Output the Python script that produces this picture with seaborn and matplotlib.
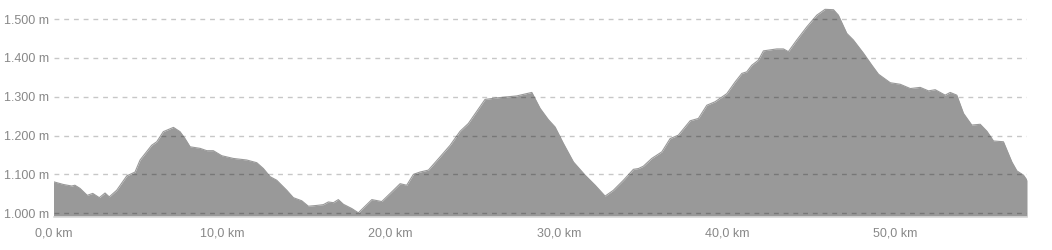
import matplotlib
matplotlib.use("Agg")
import matplotlib.pyplot as plt
import seaborn as sns
import pandas as pd

# distance (km) and elevation (m)
distance_km = [0.0, 0.58, 1.08, 1.27, 1.57, 2.0, 2.33, 2.72, 3.06, 3.31, 3.75, 4.35, 4.84, 5.14,
               5.83, 6.13, 6.52, 7.12, 7.51, 7.81, 8.11, 8.70, 9.10, 9.49, 9.99, 10.68, 11.47,
               12.07, 12.46, 12.86, 13.25, 13.85, 14.24, 14.74, 15.13, 15.63, 16.02, 16.32,
               16.62, 16.91, 17.21, 17.71, 18.1, 18.9, 19.49, 20.18, 20.58, 20.97, 21.37, 21.76,
               22.26, 22.95, 23.55, 24.14, 24.63, 25.62, 26.32, 27.5, 28.4, 28.89, 29.38, 29.78,
               30.27, 30.87, 31.56, 32.16, 32.75, 33.24, 33.84, 34.43, 34.73, 35.02, 35.52,
               36.12, 36.61, 37.1, 37.8, 38.29, 38.79, 39.28, 39.98, 40.47, 40.87, 41.16, 41.46,
               41.85, 42.15, 42.94, 43.34, 43.63, 44.13, 44.73, 45.32, 45.81, 46.31, 46.6, 47.1,
               47.49, 48.09, 48.59, 48.98, 49.68, 50.27, 50.87, 51.46, 51.95, 52.35, 52.94,
               53.24, 53.63, 54.03, 54.52, 55.02, 55.42, 55.81, 56.4, 56.9, 57.2, 57.59, 57.8]
elevation_m = [1081, 1074, 1070, 1072, 1064, 1046, 1051, 1040, 1052, 1042, 1059, 1096, 1106, 1137,
               1175, 1184, 1210, 1221, 1210, 1192, 1171, 1167, 1161, 1161, 1148, 1141, 1137,
               1130, 1115, 1094, 1085, 1059, 1040, 1032, 1018, 1020, 1022, 1029,
               1027, 1035, 1023, 1012, 1001, 1035, 1030, 1059, 1076, 1072, 1100, 1106,
               1111, 1145, 1175, 1211, 1231, 1293, 1297, 1302, 1311, 1270, 1241, 1222,
               1180, 1132, 1098, 1072, 1044, 1059, 1085, 1113, 1115, 1121, 1141,
               1158, 1192, 1201, 1238, 1244, 1278, 1287, 1308, 1338, 1360, 1364, 1381,
               1394, 1418, 1423, 1423, 1416, 1446, 1480, 1510, 1525, 1524, 1510, 1463,
               1446, 1412, 1381, 1358, 1336, 1332, 1321, 1324, 1315, 1318, 1304,
               1311, 1304, 1257, 1227, 1229, 1211, 1186, 1184, 1132, 1109, 1098, 1085]

y_ticks = [1000, 1100, 1200, 1300, 1400, 1500]
y_tick_labels = ["1.000 m", "1.100 m", "1.200 m", "1.300 m", "1.400 m", "1.500 m"]
x_ticks = [0, 10, 20, 30, 40, 50, 57.8]
x_tick_labels = ["0,0 km", "10,0 km", "20,0 km", "30,0 km", "40,0 km", "50,0 km", ""]

df = pd.DataFrame({"km": distance_km, "m": elevation_m})

sns.set_theme(style="white")
plt.rcParams["font.family"] = ["Liberation Sans", "DejaVu Sans"]

fig = plt.figure(figsize=(10.52, 2.5), dpi=100)
ax = fig.add_axes([53.5 / 1052, 33.3 / 250, (1027 - 53.5) / 1052, (216.7 - 3.5) / 250])

ymin, ymax = 991, 1540
sns.lineplot(data=df, x="km", y="m", ax=ax, color="#999999", linewidth=0.8, zorder=2)
ax.fill_between(df["km"], df["m"], ymin, color="#999999", linewidth=0, zorder=2)

ax.set_xlim(0, 57.8)
ax.set_ylim(ymin, ymax)
ax.set_xlabel("")
ax.set_ylabel("")

ax.set_yticks(y_ticks)
ax.set_yticklabels(y_tick_labels)
ax.set_xticks(x_ticks)
ax.set_xticklabels(x_tick_labels)

for y in y_ticks:
    ax.axhline(y, color=(0, 0, 0, 0.22), linewidth=1, linestyle=(0, (3.5, 3.5)), zorder=3)

for s in ["top", "right", "left"]:
    ax.spines[s].set_visible(False)
ax.spines["bottom"].set_color("#d8d8d8")
ax.spines["bottom"].set_linewidth(1.2)
ax.spines["bottom"].set_zorder(4)

ax.tick_params(axis="y", length=0, pad=3, labelsize=9, labelcolor="#888888")
ax.tick_params(axis="x", length=5, width=1, color="#d8d8d8", pad=3, labelsize=9,
               labelcolor="#888888", direction="out")

fig.savefig("out.png", dpi=100)
